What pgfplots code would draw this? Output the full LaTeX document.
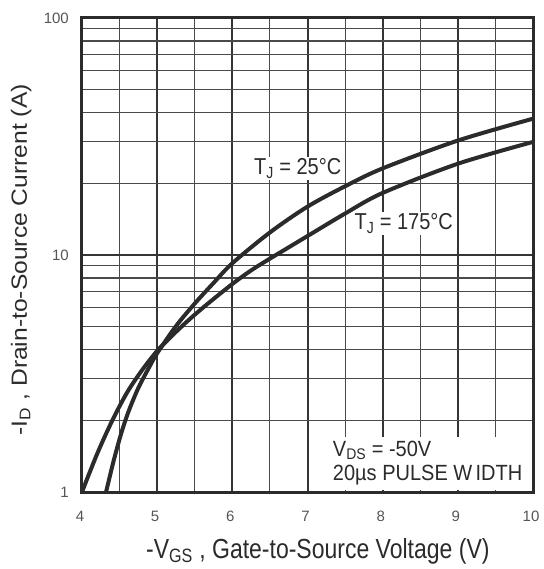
\documentclass[border=0pt]{standalone}
\usepackage{fontspec}
\setmainfont{Liberation Sans}
\usepackage{graphicx}
\usepackage{pgfplots}
\pgfplotsset{compat=1.18}

\definecolor{ink}{HTML}{2B2B2B}
\definecolor{majgrid}{HTML}{353535}
\definecolor{mingrid}{HTML}{4A4A4A}
\definecolor{tickc}{HTML}{555555}

% the scan is a little taller than wide: stretch text the same way
\newcommand{\tall}[2][1.15]{\scalebox{1}[#1]{#2}}

\begin{document}
\begin{tikzpicture}
\begin{axis}[
  scale only axis, width=451pt, height=474pt,
  xmin=4, xmax=10, ymode=log, ymin=1, ymax=100,
  xtick={4,...,10}, xticklabels={4,5,6,7,8,9,10},
  minor xtick={4.5,5.5,6.5,7.5,8.5,9.5},
  ytick={1,10,100}, yticklabels={1,10,100},
  minor ytick={2,3,4,5,6,7,8,9,20,30,40,50,60,70,80,90},
  grid=both,
  major grid style={majgrid, line width=2pt},
  minor grid style={mingrid, line width=1.1pt},
  axis line style={ink, line width=3pt},
  major tick length=0pt, minor tick length=0pt,
  tick label style={font=\fontsize{15}{15}\selectfont, text=tickc, inner sep=0pt},
  xticklabel style={anchor=north, yshift=-19pt, xshift=-2pt},
  yticklabel style={anchor=east, xshift=-13pt},
  xlabel={\tall[1.2]{-V\textsubscript{GS} , Gate-to-Source Voltage (V)}},
  ylabel={\scalebox{1.12}[1]{-I\textsubscript{D} , Drain-to-Source Current (A)}},
  label style={text=ink},
  xlabel style={font=\fontsize{23}{23}\selectfont, at={(axis description cs:0.523,-0.1245)}, anchor=center},
  ylabel style={font=\fontsize{22}{22}\selectfont, at={(axis description cs:-0.135,0.49)}, anchor=center},
]
% T_J = 25 C
\addplot[ink, line width=4pt, smooth] coordinates {
  (4.32,1) (4.42,1.35) (4.52,1.76) (4.62,2.19) (4.75,2.75) (4.9,3.39)
  (5.0,3.85) (5.25,5.01) (5.5,6.24) (5.75,7.62) (6.0,9.23) (6.5,12.45)
  (7,16.0) (7.5,19.5) (8,23.2) (9,30.4) (10,37.6)
};
% T_J = 175 C
\addplot[ink, line width=4pt, smooth] coordinates {
  (4.0,1) (4.2,1.445) (4.4,1.995) (4.6,2.63) (4.8,3.27) (5.0,3.94)
  (5.2,4.57) (5.4,5.25) (5.6,5.96) (5.85,6.92) (6.05,7.76) (6.25,8.61)
  (6.45,9.44) (7,12.02) (7.5,14.96) (8,18.28) (9,24.27) (10,30.0)
};

\node[fill=white, inner sep=1.5pt, text=ink, font=\fontsize{20}{20}\selectfont]
  at (axis cs:6.87,23.1) {\tall{T\textsubscript{J} = 25°C}};
\node[fill=white, inner sep=1.5pt, text=ink, font=\fontsize{20}{20}\selectfont]
  at (axis cs:8.28,13.6) {\tall{T\textsubscript{J} = 175°C}};
\node[fill=white, anchor=south east, inner xsep=9pt, inner ysep=2pt,
  text=ink, font=\fontsize{20}{22.5}\selectfont]
  at ([shift={(-1.5pt,1.5pt)}]rel axis cs:1,0)
  {\tall[1.1]{\begin{tabular}{@{}l@{}}V\textsubscript{DS} = -50V\\20µs PULSE W\,IDTH\end{tabular}}};

\coordinate (sw) at (rel axis cs:0,0);
\coordinate (ne) at (rel axis cs:1,1);
\end{axis}
\pgfresetboundingbox
\path ([shift={(-82pt,-77pt)}]sw) rectangle ([shift={(10pt,18pt)}]ne);
\end{tikzpicture}
\end{document}
